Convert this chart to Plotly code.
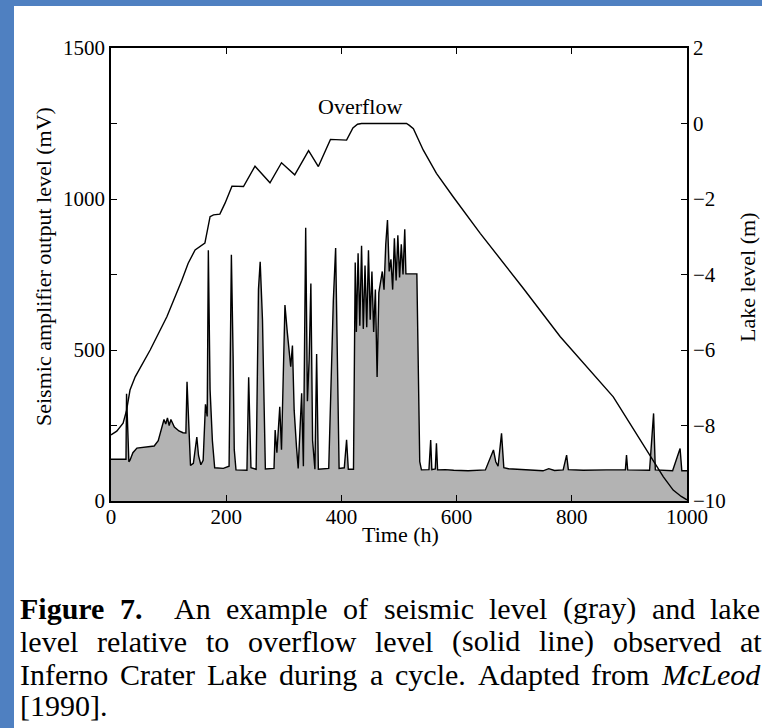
import plotly.graph_objects as go

# Seismic amplifier output level (mV) versus time (h)
seis_t = [0, 26, 27, 31, 33, 38, 45, 60, 75, 82, 88, 92, 95, 98, 101, 104, 110, 118, 125, 130,
          132, 135, 138, 143, 149, 152, 156, 160, 164, 167, 169, 172, 176, 180, 195, 205, 209, 212,
          214, 217, 236, 239, 243, 252, 256, 259, 263, 266, 268, 283, 285, 288, 293, 296, 302, 306,
          309, 312, 315, 318, 322, 325, 331, 334, 338, 341, 344, 347, 350, 354, 357, 360, 378, 386,
          390, 393, 396, 405, 409, 412, 421, 424, 426, 429, 432, 435, 438, 441, 444, 447, 450, 453,
          456, 459, 462, 465, 468, 471, 474, 477, 480, 483, 486, 489, 492, 495, 498, 501, 504, 507,
          510, 512, 531, 533, 536, 539, 552, 555, 557, 563, 565, 567, 580, 595, 620, 650, 664, 668,
          672, 678, 682, 690, 720, 750, 760, 770, 785, 791, 794, 820, 860, 893, 895, 897, 935, 942,
          945, 975, 988, 991, 1000]
seis_v = [138, 138, 355, 130, 135, 160, 175, 178, 182, 200, 240, 270, 255, 275, 250, 270, 245, 232, 226, 225,
          395, 250, 118, 125, 212, 150, 120, 135, 320, 280, 830, 370, 200, 110, 108, 115, 815, 480,
          170, 103, 102, 410, 110, 105, 700, 792, 600, 300, 106, 108, 235, 160, 312, 170, 649, 560,
          500, 445, 515, 300, 180, 108, 357, 115, 905, 330, 468, 720, 200, 105, 487, 105, 108, 665,
          838, 400, 108, 110, 203, 105, 105, 790, 560, 820, 580, 845, 570, 780, 575, 830, 600, 760,
          560, 700, 411, 690, 720, 760, 700, 850, 930, 760, 800, 700, 870, 730, 880, 740, 850, 750,
          900, 752, 752, 510, 130, 103, 104, 202, 104, 106, 191, 103, 104, 102, 100, 103, 169, 130,
          115, 224, 110, 107, 104, 100, 107, 101, 103, 152, 104, 102, 103, 103, 152, 103, 102, 290,
          103, 100, 174, 100, 100]

# Lake level relative to overflow (m)
lake_t = [0, 10, 21, 27, 33, 42, 68, 97, 123, 134, 146, 154, 163, 172, 178, 189, 198, 210, 230, 250,
          276, 296, 319, 343, 360, 381, 409, 420, 428, 435, 513, 518, 525, 542, 565, 594, 641, 716,
          780, 872, 930, 959, 976, 990, 1000]
lake_l = [-8.25, -8.15, -7.94, -7.6, -7.06, -6.71, -6.0, -5.12, -4.15, -3.70, -3.35, -3.26, -3.17, -2.47,
          -2.42, -2.40, -2.11, -1.66, -1.67, -1.13, -1.57, -1.04, -1.36, -0.72, -1.14, -0.42, -0.44,
          -0.12, -0.02, 0.0, 0.0, -0.05, -0.14, -0.70, -1.32, -1.94, -2.91, -4.37, -5.65, -7.24,
          -8.65, -9.36, -9.71, -9.88, -9.97]

x_ticks = [0, 200, 400, 600, 800, 1000]
seis_ticks = [0, 500, 1000, 1500]
lake_ticks = [-10, -8, -6, -4, -2, 0, 2]

W, H = 762, 728
L, R, T, B = 111, 75, 48, 227
PW, PH = W - L - R, H - T - B


def px(x):
    return (x - L) / PW


def py(y):
    return (H - B - y) / PH


SERIF = "Liberation Serif, Times New Roman, serif"

fig = go.Figure()
fig.add_trace(go.Scatter(x=seis_t, y=seis_v, mode="lines", fill="tozeroy",
                         fillcolor="#b3b3b3", line=dict(color="black", width=1.4),
                         showlegend=False, hoverinfo="skip"))
fig.add_trace(go.Scatter(x=lake_t, y=lake_l, mode="lines", yaxis="y2",
                         line=dict(color="black", width=1.4),
                         showlegend=False, hoverinfo="skip"))

tickfont = dict(family=SERIF, size=21, color="black")
fig.update_layout(
    width=W, height=H,
    margin=dict(l=L, r=R, t=T, b=B, pad=0),
    paper_bgcolor="#4f80c1",
    plot_bgcolor="white",
    xaxis=dict(range=[0, 1000], tickvals=x_ticks, ticks="inside", ticklen=6, tickwidth=1.3,
               showline=True, linecolor="black", linewidth=1.5, mirror="ticks",
               showgrid=False, zeroline=False, tickfont=tickfont, tickcolor="black",
               ticklabelstandoff=-4),
    yaxis=dict(range=[0, 1500], tickvals=seis_ticks, ticks="inside", ticklen=6, tickwidth=1.3,
               minor=dict(dtick=250, ticks="inside", ticklen=6, tickwidth=1.3, tickcolor="black"),
               showline=True, linecolor="black", linewidth=1.5,
               showgrid=False, zeroline=False, tickfont=tickfont, tickcolor="black"),
    yaxis2=dict(range=[-10, 2], tickvals=lake_ticks, ticks="inside", ticklen=6, tickwidth=1.3,
                overlaying="y", side="right", showline=True, linecolor="black", linewidth=1.5,
                showgrid=False, zeroline=False, tickfont=tickfont, tickcolor="black"),
)

# white page behind the figure
fig.add_shape(type="rect", xref="paper", yref="paper", layer="below",
              x0=px(14), x1=px(W + 5), y0=py(H + 5), y1=py(6),
              fillcolor="white", line=dict(width=0))

ann = []
titlefont = dict(family=SERIF, size=22, color="black")
ann.append(dict(text="Time (h)", x=px(400), y=py(534), xref="paper", yref="paper",
                showarrow=False, font=titlefont, xanchor="center", yanchor="middle"))
ann.append(dict(text="Seismic amplifier output level (mV)", x=px(43), y=py(267), xref="paper",
                yref="paper", showarrow=False, font=titlefont, textangle=-90,
                xanchor="center", yanchor="middle"))
ann.append(dict(text="Lake level (m)", x=px(747), y=py(277), xref="paper", yref="paper",
                showarrow=False, font=titlefont, textangle=-90,
                xanchor="center", yanchor="middle"))
ann.append(dict(text="Overflow", x=432, y=0.45, xref="x", yref="y2", showarrow=False,
                font=titlefont, xanchor="center", yanchor="middle"))

# caption, justified word by word (left edge of each word in page pixels)
cap_font = dict(family=SERIF, size=30, color="black")
caption = [
    (608, [(18, "<b>Figure</b>"), (118, "<b>7.</b>"), (172, "An"), (224, "example"), (341, "of"),
           (382, "seismic"), (487, "level"), (561, "(gray)"), (650, "and"), (708, "lake")]),
    (641, [(18, "level"), (95, "relative"), (204, "to"), (246, "overflow"), (373, "level"),
           (450, "(solid"), (537, "line)"), (611, "observed"), (738, "at")]),
    (674, [(18, "Inferno"), (118, "Crater"), (205, "Lake"), (277, "during"), (368, "a"),
           (393, "cycle."), (476, "Adapted"), (589, "from"), (659, "<i>McLeod</i>")]),
    (706, [(18, "[1990].")]),
]
for ypx, words in caption:
    for xpx, w in words:
        ann.append(dict(text=w, x=px(xpx), y=py(ypx), xref="paper", yref="paper",
                        showarrow=False, font=cap_font, xanchor="left", yanchor="middle"))

fig.update_layout(annotations=ann)
fig.write_html("out.html")
